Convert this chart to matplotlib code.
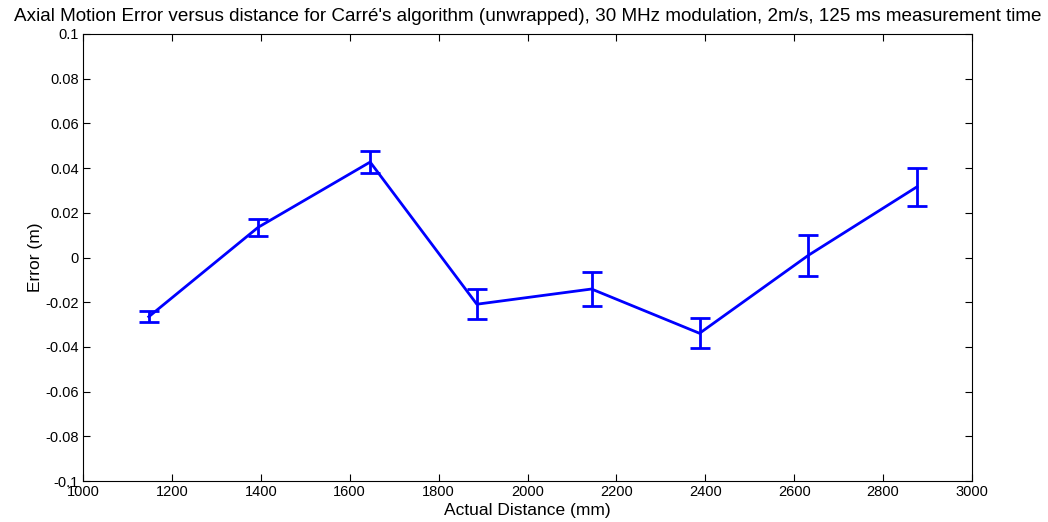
import matplotlib
matplotlib.use("Agg")
import matplotlib.pyplot as plt
from matplotlib.ticker import FuncFormatter

plt.rcParams['font.family'] = ['Liberation Sans', 'DejaVu Sans']

distance = [1148, 1394, 1646, 1886, 2144, 2387, 2632, 2876]
error = [-0.0265, 0.0135, 0.0427, -0.0209, -0.0141, -0.0339, 0.0010, 0.0316]
err_bar = [0.0025, 0.0037, 0.0050, 0.0068, 0.0075, 0.0067, 0.0091, 0.0084]

x_ticks = [1000, 1200, 1400, 1600, 1800, 2000, 2200, 2400, 2600, 2800, 3000]
y_ticks = [-0.1, -0.08, -0.06, -0.04, -0.02, 0, 0.02, 0.04, 0.06, 0.08, 0.1]

title = "Axial Motion Error versus distance for Carré's algorithm (unwrapped), 30 MHz modulation, 2m/s, 125 ms measurement time"

fig = plt.figure(figsize=(10.48, 5.22), dpi=100)
ax = fig.add_axes([0.0792, 0.0785, 0.9275 - 0.0792, 0.9349 - 0.0785])

ax.errorbar(distance, error, yerr=err_bar, color=(0, 0, 1), linewidth=2.0,
            elinewidth=2.0, capsize=7, capthick=2.0)

ax.set_xlim(1000, 3000)
ax.set_ylim(-0.1, 0.1)
ax.set_xticks(x_ticks)
ax.set_yticks(y_ticks)
ax.yaxis.set_major_formatter(FuncFormatter(lambda v, p: "%g" % round(v, 4)))
ax.tick_params(direction='in', top=True, right=True, length=5, width=0.8,
               labelsize=10.5, pad=3)
for s in ax.spines.values():
    s.set_linewidth(0.8)

ax.set_xlabel("Actual Distance (mm)", fontsize=12.5, labelpad=3)
ax.set_ylabel("Error (m)", fontsize=12.5, labelpad=2)
ax.set_title(title, fontsize=13.6, pad=9)

fig.savefig("out.png", dpi=100)
